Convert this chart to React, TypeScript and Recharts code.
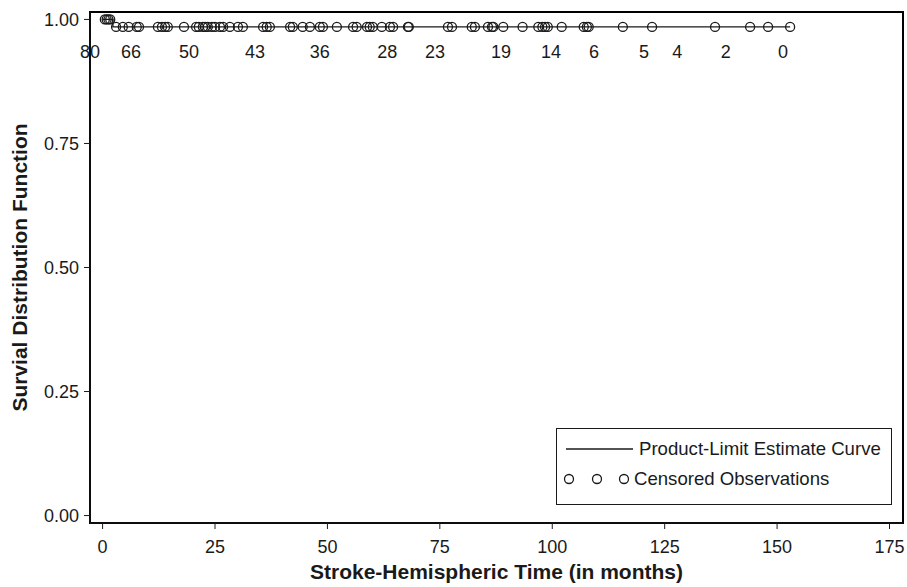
import React from 'react'
import { ComposedChart, Line, Scatter, XAxis, YAxis, Legend, Label, ReferenceArea } from 'recharts'

const FONT = '"Liberation Sans", Arial, Helvetica, sans-serif'
const INK = '#1a1a1a'

// Kaplan-Meier step curve
const curveTimes = [0, 2.3, 152.9]
const curveSurvival = [1, 0.985, 0.985]

// censored observations still at 1.00
const censoredEarlyTimes = [0.5, 0.9, 1.3, 1.7]
const censoredEarlyLevel = [1, 1, 1, 1]

// censored observations after the single drop
const censoredTimes = [
  3.0, 4.5, 5.8, 7.6, 8.1, 12.3, 13.2, 13.9, 14.5, 18.1, 20.8, 21.4, 22.3, 22.8,
  23.4, 24.3, 25.0, 26.1, 26.8, 28.3, 30.1, 31.2, 35.7, 36.5, 37.2, 41.7, 42.3,
  44.5, 46.1, 48.3, 49.0, 52.1, 55.7, 56.5, 58.8, 59.4, 60.1, 62.1, 63.9, 64.6,
  67.9, 68.1, 76.8, 77.7, 82.1, 82.8, 85.7, 86.6, 86.9, 89.1, 93.4, 96.9, 97.8,
  98.4, 99.0, 102.1, 107.0, 107.7, 108.1, 115.7, 122.2, 136.2, 144.0, 148.0, 152.9,
]
const censoredLevel = censoredTimes.map(() => 0.985)

// number at risk row
const riskTimes = [-2.8, 6.3, 19.2, 33.9, 48.3, 63.3, 73.9, 88.6, 99.7, 109.3, 120.4, 127.8, 138.6, 151.3]
const riskCounts = [80, 66, 50, 43, 36, 28, 23, 19, 14, 6, 5, 4, 2, 0]
const riskRowLevel = 0.935

const xTicks = [0, 25, 50, 75, 100, 125, 150, 175]
const yTicks = [0, 0.25, 0.5, 0.75, 1]
const xDomain: [number, number] = [-2.8, 178]
const yDomain: [number, number] = [-0.015, 1.015]

const curveData = curveTimes.map((t, i) => ({ t, s: curveSurvival[i] }))
const censoredData = [
  ...censoredEarlyTimes.map((t, i) => ({ t, s: censoredEarlyLevel[i] })),
  ...censoredTimes.map((t, i) => ({ t, s: censoredLevel[i] })),
]
const riskData = riskTimes.map((t, i) => ({ t, s: riskRowLevel, n: riskCounts[i] }))

const CensorMark = (props: any) => (
  <circle cx={props.cx} cy={props.cy} r={4.5} fill="none" stroke={INK} strokeWidth={1.3} />
)

const RiskLabel = (props: any) => (
  <text
    x={props.cx}
    y={props.cy}
    textAnchor="middle"
    dominantBaseline="central"
    fontSize={18}
    fill={INK}
    fontFamily={FONT}
  >
    {props.payload.n}
  </text>
)

const KmLegend = () => (
  <div
    style={{
      width: 336,
      height: 77,
      border: `1px solid ${INK}`,
      boxSizing: 'border-box',
      background: '#fff',
      position: 'relative',
      fontFamily: FONT,
      fontSize: 18.6,
      color: INK,
    }}
  >
    <svg width={90} height={77} style={{ position: 'absolute', left: 0, top: 0 }}>
      <line x1={9} x2={76} y1={20} y2={20} stroke={INK} strokeWidth={1.3} />
      <circle cx={12} cy={50} r={4.5} fill="none" stroke={INK} strokeWidth={1.3} />
      <circle cx={40} cy={50} r={4.5} fill="none" stroke={INK} strokeWidth={1.3} />
      <circle cx={67} cy={50} r={4.5} fill="none" stroke={INK} strokeWidth={1.3} />
    </svg>
    <div style={{ position: 'absolute', left: 82, top: 9, whiteSpace: 'nowrap' }}>
      Product-Limit Estimate Curve
    </div>
    <div style={{ position: 'absolute', left: 77, top: 39, whiteSpace: 'nowrap' }}>
      Censored Observations
    </div>
  </div>
)

export default function App() {
  return (
    <div style={{ position: 'absolute', left: 0, top: 0, width: 907, height: 587, background: '#fff' }}>
      <ComposedChart
        width={907}
        height={587}
        margin={{ top: 12, right: 4, left: 10, bottom: 4 }}
        style={{ fontFamily: FONT }}
      >
        <XAxis
          xAxisId="main"
          dataKey="t"
          type="number"
          domain={xDomain}
          ticks={xTicks}
          height={60}
          tickSize={6}
          tickMargin={11}
          stroke={INK}
          tick={{ fill: INK, fontSize: 18 }}
        >
          <Label
            value="Stroke-Hemispheric Time (in months)"
            position="insideBottom"
            offset={4}
            style={{ fontWeight: 'bold', fontSize: 21, fill: INK }}
          />
        </XAxis>
        <YAxis
          yAxisId="main"
          dataKey="s"
          type="number"
          domain={yDomain}
          ticks={yTicks}
          width={80}
          tickSize={6}
          tickMargin={5}
          stroke={INK}
          tick={{ fill: INK, fontSize: 18 }}
          tickFormatter={(v: number) => v.toFixed(2)}
        >
          <Label
            value="Survial Distribution Function"
            angle={-90}
            position="insideLeft"
            offset={10}
            style={{ textAnchor: 'middle', fontWeight: 'bold', fontSize: 21, fill: INK }}
          />
        </YAxis>
        {/* plot frame */}
        <ReferenceArea
          xAxisId="main"
          yAxisId="main"
          x1={xDomain[0]}
          x2={xDomain[1]}
          y1={yDomain[0]}
          y2={yDomain[1]}
          fill="none"
          stroke="#000"
          strokeWidth={2}
          ifOverflow="visible"
        />
        <Line
          xAxisId="main"
          yAxisId="main"
          data={curveData}
          dataKey="s"
          type="stepAfter"
          stroke={INK}
          strokeWidth={1.3}
          dot={false}
          isAnimationActive={false}
        />
        <Scatter
          xAxisId="main"
          yAxisId="main"
          data={censoredData}
          dataKey="s"
          shape={CensorMark}
          isAnimationActive={false}
        />
        <Scatter
          xAxisId="main"
          yAxisId="main"
          data={riskData}
          dataKey="s"
          shape={RiskLabel}
          isAnimationActive={false}
        />
        <Legend
          layout="horizontal"
          verticalAlign="middle"
          align="center"
          content={() => <KmLegend />}
          wrapperStyle={{ left: 556, top: 428, width: 336, height: 77 }}
        />
      </ComposedChart>
    </div>
  )
}
